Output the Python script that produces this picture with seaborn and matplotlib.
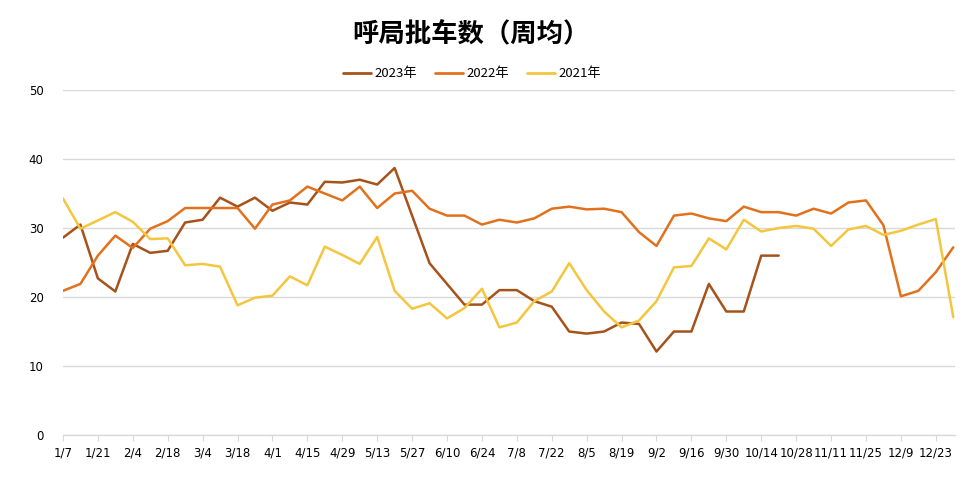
import numpy as np
import pandas as pd
import matplotlib
matplotlib.use("Agg")
import matplotlib.pyplot as plt
import seaborn as sns

sns.set_style("white")
plt.rcParams['font.family'] = ['DejaVu Sans', 'Noto Sans CJK SC']
plt.rcParams['text.color'] = 'black'
plt.rcParams['xtick.labelcolor'] = 'black'
plt.rcParams['ytick.labelcolor'] = 'black'

weeks = ["1/7", "1/14", "1/21", "1/28", "2/4", "2/11", "2/18", "2/25", "3/4", "3/11",
         "3/18", "3/25", "4/1", "4/8", "4/15", "4/22", "4/29", "5/6", "5/13", "5/20",
         "5/27", "6/3", "6/10", "6/17", "6/24", "7/1", "7/8", "7/15", "7/22", "7/29",
         "8/5", "8/12", "8/19", "8/26", "9/2", "9/9", "9/16", "9/23", "9/30", "10/7",
         "10/14", "10/21", "10/28", "11/4", "11/11", "11/18", "11/25", "12/2", "12/9", "12/16",
         "12/23", "12/30"]

y2023 = [28.6, 30.5, 22.7, 20.8, 27.7, 26.4, 26.7, 30.8, 31.2, 34.4,
         33.1, 34.4, 32.5, 33.7, 33.4, 36.7, 36.6, 37.0, 36.3, 38.7,
         31.8, 24.9, 21.9, 18.9, 18.9, 21.0, 21.0, 19.4, 18.6, 15.0,
         14.7, 15.0, 16.3, 16.1, 12.1, 15.0, 15.0, 21.9, 17.9, 17.9,
         26.0, 26.0]

y2022 = [20.9, 21.9, 26.0, 28.9, 27.1, 29.9, 31.0, 32.9, 32.9, 32.9,
         32.9, 29.9, 33.4, 34.0, 36.0, 35.0, 34.0, 36.0, 32.9, 35.0,
         35.4, 32.8, 31.8, 31.8, 30.5, 31.2, 30.8, 31.4, 32.8, 33.1,
         32.7, 32.8, 32.3, 29.4, 27.4, 31.8, 32.1, 31.4, 31.0, 33.1,
         32.3, 32.3, 31.8, 32.8, 32.1, 33.7, 34.0, 30.4, 20.1, 20.9,
         23.6, 27.2]

y2021 = [34.3, 29.9, 31.1, 32.3, 30.9, 28.4, 28.5, 24.6, 24.8, 24.4,
         18.8, 19.9, 20.2, 23.0, 21.7, 27.3, 26.1, 24.8, 28.7, 20.9,
         18.3, 19.1, 16.9, 18.4, 21.2, 15.6, 16.3, 19.4, 20.8, 24.9,
         21.0, 17.9, 15.6, 16.6, 19.4, 24.3, 24.5, 28.5, 26.9, 31.2,
         29.5, 30.0, 30.3, 29.9, 27.4, 29.8, 30.3, 29.0, 29.6, 30.5,
         31.3, 17.1]

series_names = ["2023年", "2022年", "2021年"]
series_colors = ["#A5521B", "#E2711D", "#F4C63D"]

n = len(weeks)
frames = []
for name, vals in zip(series_names, [y2023, y2022, y2021]):
    v = list(vals) + [np.nan] * (n - len(vals))
    frames.append(pd.DataFrame({"week": range(n), "value": v, "year": name}))
df = pd.concat(frames, ignore_index=True)

fig = plt.figure(figsize=(9.73, 4.93), dpi=100)
ax = fig.add_axes([0.0647, 0.1176, 0.9168, 0.6998])

sns.lineplot(data=df, x="week", y="value", hue="year", hue_order=series_names,
             palette=series_colors, linewidth=1.8, ax=ax, legend=False)

ax.set_xlim(0, 51.1)
ax.set_ylim(0, 50)
ax.set_yticks([0, 10, 20, 30, 40, 50])
ax.set_xticks(range(0, n, 2))
ax.set_xticklabels(weeks[::2])
ax.set_xlabel("")
ax.set_ylabel("")
ax.grid(axis="y", color="#d9d9d9", linewidth=1)
ax.grid(axis="x", visible=False)
for s in ["top", "right", "left"]:
    ax.spines[s].set_visible(False)
ax.spines["bottom"].set_color("#d9d9d9")
ax.spines["bottom"].set_linewidth(1)
ax.tick_params(axis="x", length=4, color="#d9d9d9", labelsize=8.5, pad=4, bottom=True)
ax.tick_params(axis="y", length=0, labelsize=8.5, pad=14)

fig.text(0.484, 0.929, "呼局批车数（周均）", ha="center", va="center", color="black",
         fontsize=19, fontweight="bold", family=["Noto Sans CJK SC", "DejaVu Sans"])

handles = [plt.Line2D([0], [0], color=c, lw=2) for c in series_colors]
leg = fig.legend(handles, series_names, loc="center", bbox_to_anchor=(0.485, 0.85),
                 ncol=3, frameon=False, handlelength=2.1, handletextpad=0.25,
                 columnspacing=1.4, prop={"family": ["Noto Sans CJK SC", "DejaVu Sans"], "size": 9.5})

fig.savefig("out.png", dpi=100)
